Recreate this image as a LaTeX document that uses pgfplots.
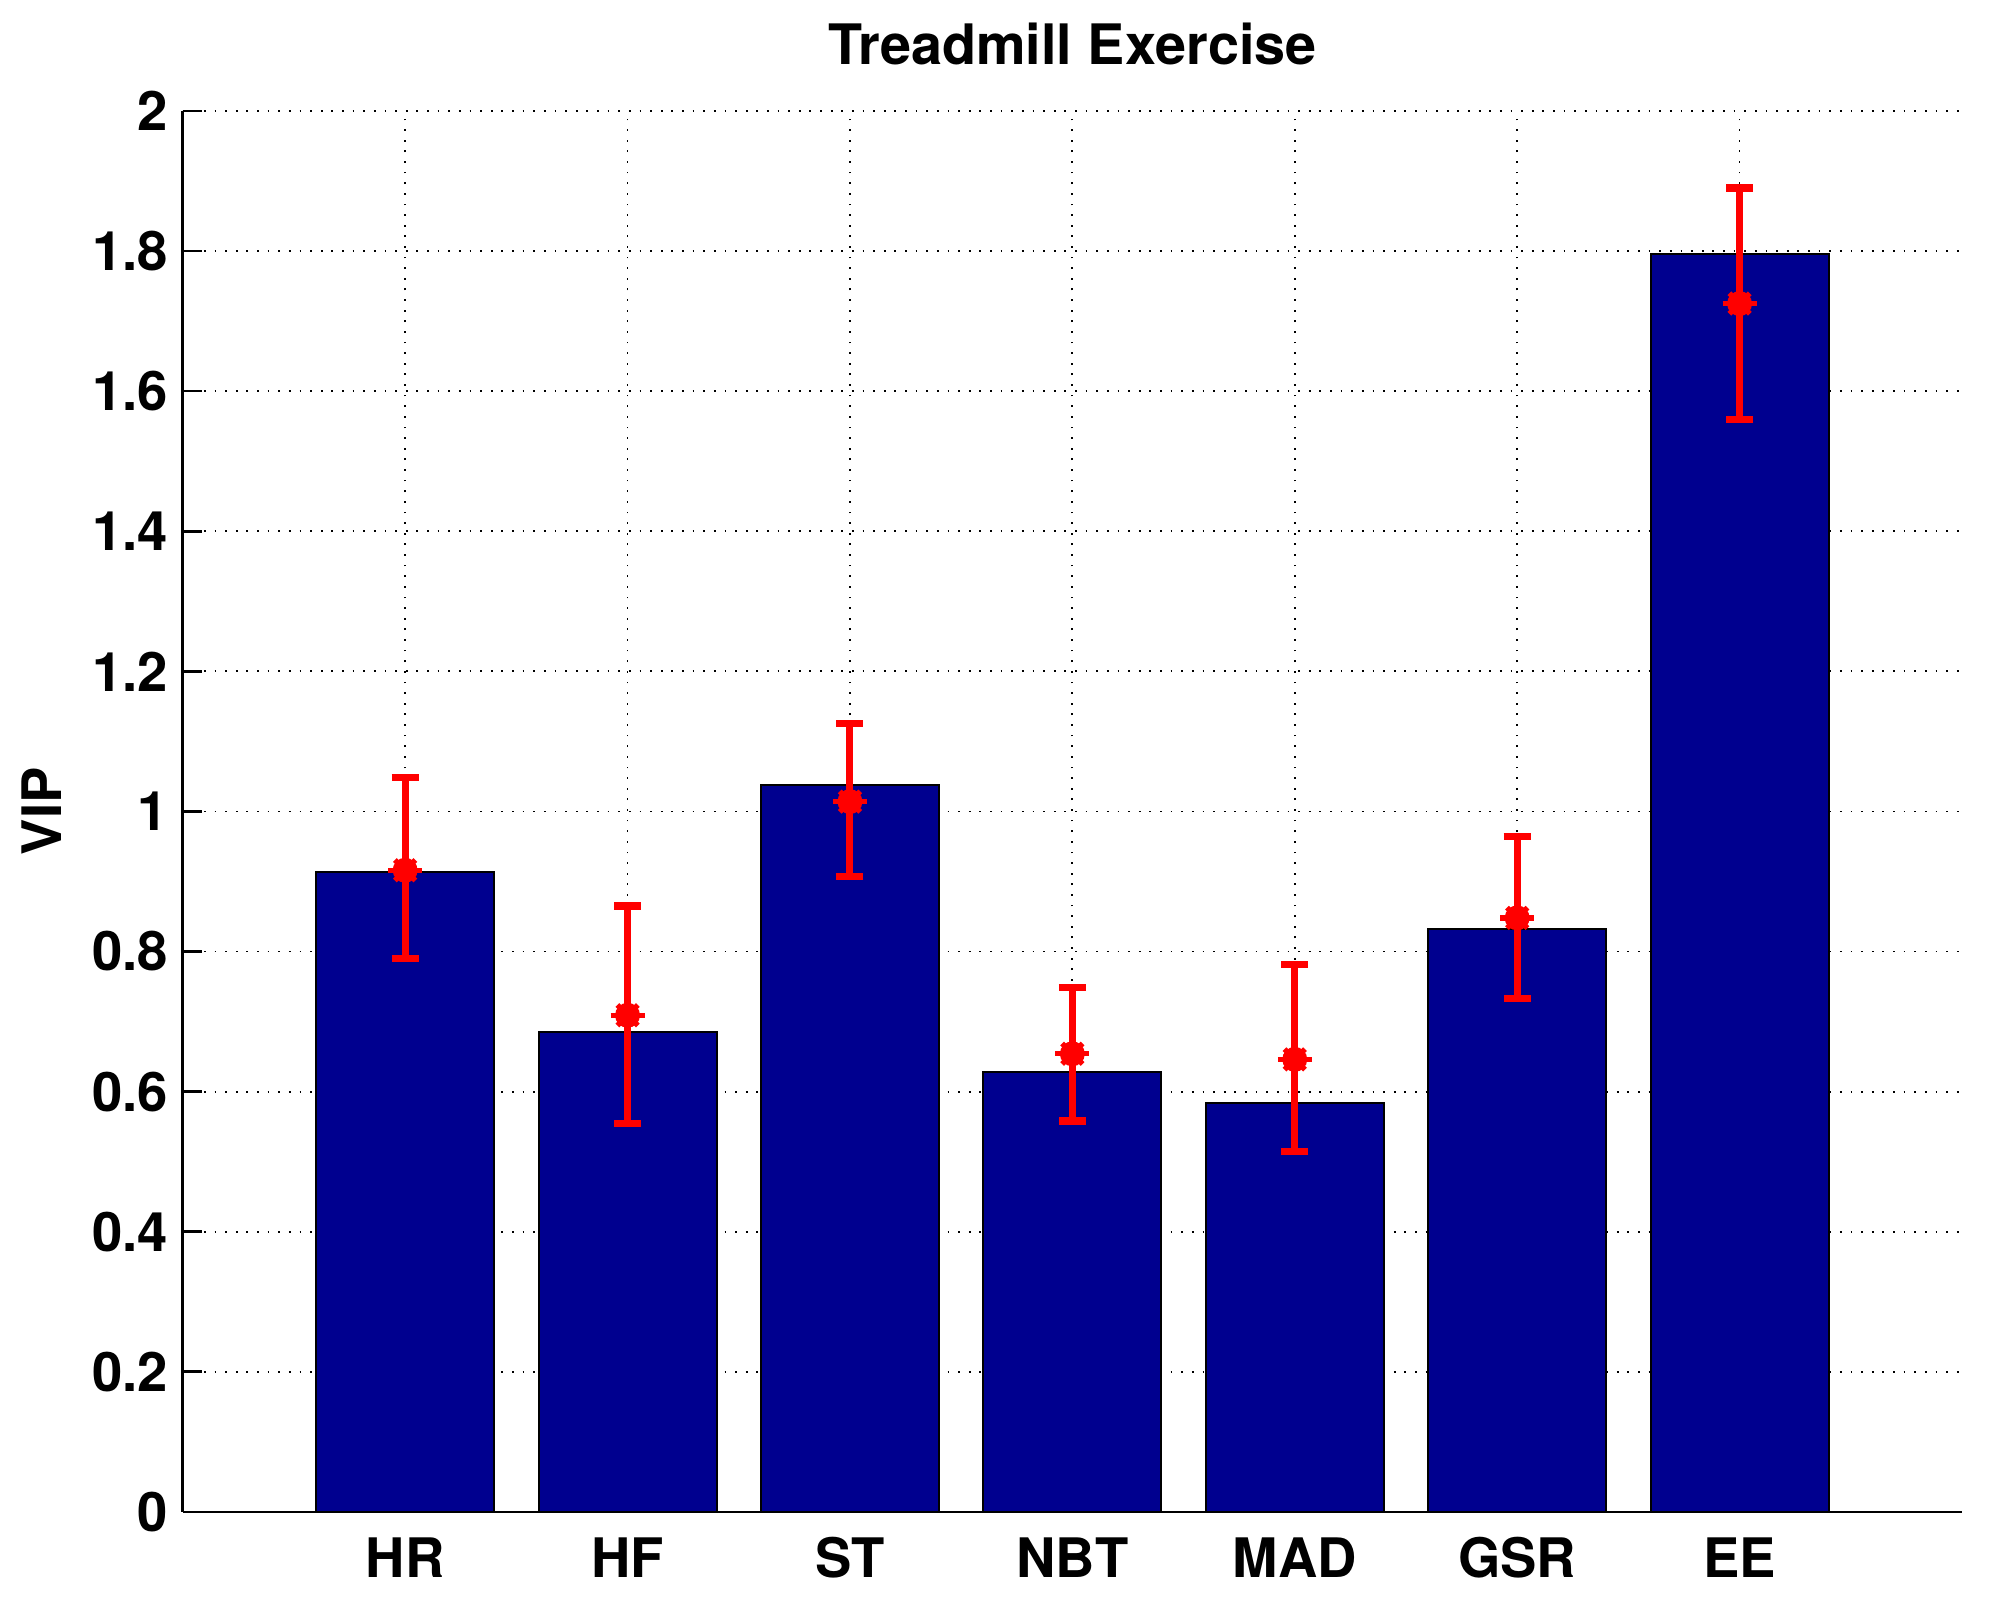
\documentclass[border=0pt]{standalone}
\usepackage{fontspec}
\setmainfont{TeX Gyre Heros}
\usepackage{pgfplots}
\pgfplotsset{compat=1.18}
\usepackage{pgfplotstable}
\definecolor{barblue}{RGB}{0,0,143}
\pgfplotstableread{
x y
1 0.913
2 0.685
3 1.038
4 0.628
5 0.584
6 0.832
7 1.796
}\bars
\pgfplotstableread{
x y ep em
1 0.916 0.133 0.126
2 0.709 0.156 0.154
3 1.014 0.112 0.107
4 0.654 0.095 0.096
5 0.646 0.135 0.132
6 0.848 0.116 0.115
7 1.725 0.165 0.166
}\errs
\begin{document}
\begin{tikzpicture}
\useasboundingbox (-1.451cm,-0.739cm) rectangle (14.549cm,12.005cm);
\begin{axis}[
  at={(0,0)}, anchor=south west,
  scale only axis,
  width=14.128cm, height=11.124cm,
  xmin=0, xmax=8, ymin=0, ymax=2,
  axis x line*=bottom, axis y line*=left,
  axis line style={line width=0.6pt, -},
  xtick={1,2,3,4,5,6,7},
  xticklabels={HR,HF,ST,NBT,MAD,GSR,EE},
  ytick={0,0.2,...,2.01},
  yticklabel style={/pgf/number format/assume math mode=true},
  ticklabel style={font=\fontsize{12.3}{14}\selectfont\bfseries},
  tick style={line width=0.6pt, black},
  major tick length=0.15cm,
  tick align=inside,
  xmajorgrids, ymajorgrids,
  grid style={black, dotted, line width=0.4pt},
  title={Treadmill Exercise},
  title style={font=\fontsize{12.6}{14}\selectfont\bfseries, at={(axis description cs:0.5,1)}, anchor=base, yshift=0.154cm},
  ylabel={VIP},
  ylabel style={font=\fontsize{12.3}{14}\selectfont\bfseries, at={(axis description cs:-0.0791,0.5)}, anchor=center},
  xticklabel style={anchor=base, yshift=-0.524cm},
  yticklabel style={anchor=east, inner sep=0pt, xshift=-0.109cm},
  clip=false,
]
\addplot[ybar, bar width=0.8, fill=barblue, draw=black, line width=0.45pt] table[x=x,y=y] {\bars};
\addplot[only marks, mark=none, red, line width=1.6pt,
  error bars/.cd, y dir=both, y explicit,
  error bar style={red, line width=1.6pt},
  error mark options={rotate=90, red, mark size=0.107cm, line width=1.6pt}]
  table[x=x, y=y, y error plus=ep, y error minus=em] {\errs};
\addplot[only marks, mark=+, mark size=0.135cm, mark options={red, line width=1.2pt}] table[x=x,y=y] {\errs};
\addplot[only marks, mark=x, mark size=0.115cm, mark options={red, line width=1.2pt}] table[x=x,y=y] {\errs};
\end{axis}
\end{tikzpicture}
\end{document}
